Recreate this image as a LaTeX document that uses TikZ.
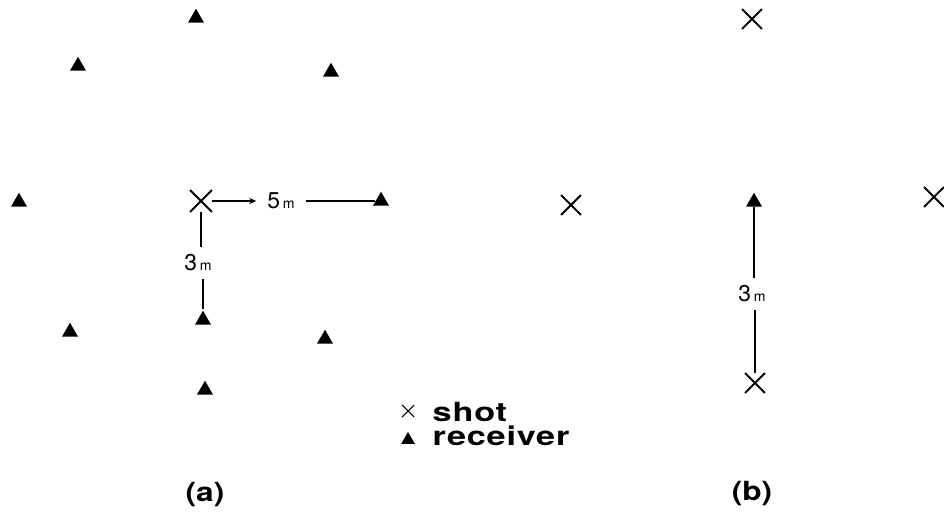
\documentclass[tikz,border=0pt]{standalone}
\usepackage{fontspec}
\setmainfont{TeX Gyre Heros}
\newfontfamily\widefont[FakeStretch=1.2]{TeX Gyre Heros}
\newfontfamily\legendfont[FakeStretch=1.3, LetterSpace=3]{TeX Gyre Heros}
\usetikzlibrary{shapes.geometric,shapes.misc,arrows.meta}
\tikzset{
  receiver/.style={regular polygon, regular polygon sides=3, fill=black, inner sep=0pt, minimum size=3.7mm},
  shot/.style={cross out, draw, line width=1.1pt, inner sep=0pt, minimum size=3.6mm},
  dimlabel/.style={inner xsep=6pt, inner ysep=4pt, font=\fontsize{13}{15}\selectfont},
  legend/.style={inner sep=0pt, font=\legendfont\fontsize{15}{18}\selectfont\bfseries},
  caption/.style={inner sep=0pt, font=\widefont\fontsize{15}{18}\selectfont\bfseries},
}
\newcommand{\meter}[1]{#1\hspace{1.5pt}{\fontsize{8}{9}\selectfont m}}

\begin{document}
\begin{tikzpicture}[x=0.2mm, y=-0.2mm, line width=0.8pt]
\useasboundingbox (0,0) rectangle (944,518);
% (a) receivers round one shot
\node[receiver] (r1) at (196,18) {};
\node[receiver] (r2) at (78,66) {};
\node[receiver] (r3) at (331,72) {};
\node[receiver] (r4) at (19,202) {};
\node[receiver] (r5) at (381,201) {};
\node[receiver] (r6) at (203,320) {};
\node[receiver] (r7) at (70,332) {};
\node[receiver] (r8) at (325,339) {};
\node[receiver] (r9) at (205,390) {};
\node[shot, minimum size=4mm] (s0) at (201,201) {};
\node[shot] (s1) at (571,205) {};
\node[dimlabel] (d5) at (281,201) {\meter{5}};
\node[dimlabel] (d3) at (198,263) {\meter{3}};
\draw[-{Stealth[length=4pt, width=3.5pt]}] (s0) -- (d5);
\draw (d5) -- (r5);
\draw (s0) -- (s0 |- d3.north);
\draw (d3.south -| r6) -- (r6);
% (b) shots round one receiver
\node[shot] (s2) at (752,19) {};
\node[shot] (s3) at (934,197) {};
\node[receiver] (r10) at (754,202) {};
\node[shot] (s4) at (755,383) {};
\node[dimlabel] (d3b) at (752,294) {\meter{3}};
\draw (r10) -- (r10 |- d3b.north);
\draw (d3b.south -| s4) -- (s4);
% legend
\node[shot, line width=0.6pt, minimum size=2.2mm] (ls) at (408,411) {};
\node[receiver, minimum size=3.2mm] (lr) at (408,440) {};
\node[legend, anchor=base west] (lst) at (432,422) {shot};
\node[legend, anchor=base west] (lrt) at (432,446) {receiver};
\node[caption] (ca) at (205,495) {(a)};
\node[caption] (cb) at (752,494) {(b)};
\end{tikzpicture}
\end{document}
